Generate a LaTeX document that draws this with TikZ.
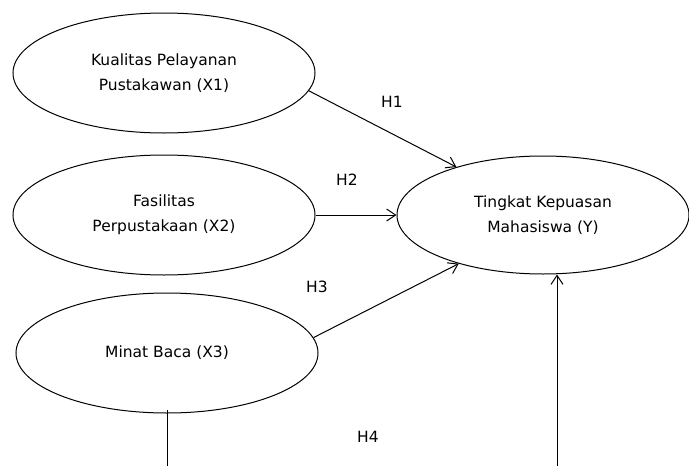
\documentclass[tikz,border=0pt]{standalone}
\usepackage{fontspec}
\setmainfont{DejaVu Sans}
\usetikzlibrary{shapes.geometric,arrows.meta}
\tikzset{
  var/.style={ellipse, draw, line width=1pt, minimum width=302pt, minimum height=120pt, inner sep=0pt, align=center, font=\fontsize{15.5}{25}\selectfont},
  lab/.style={font=\fontsize{15.5}{19}\selectfont, inner sep=0pt},
  conn/.style={line width=1pt, -{Straight Barb[length=9pt,width=12pt,line width=1pt]}},
  plain/.style={line width=1pt}
}
\begin{document}
\begin{tikzpicture}[x=1pt,y=-1pt]
\fill[white] (0,0) rectangle (689,466);
\useasboundingbox (0,0) rectangle (689,466);
\node[var] (x1) at (164,73) {Kualitas Pelayanan\\Pustakawan (X1)};
\node[var] (x2) at (164,215) {Fasilitas\\Perpustakaan (X2)};
\node[var] (x3) at (167,353) {Minat Baca (X3)};
\node[var, minimum width=292pt, minimum height=118pt] (y) at (543,215) {Tingkat Kepuasan\\Mahasiswa (Y)};
\node[lab] (h1) at (392,102) {H1};
\node[lab] (h2) at (347,180) {H2};
\node[lab] (h3) at (317,287) {H3};
\node[lab] (h4) at (368,437) {H4};
\coordinate (x3b) at (167,466);
\coordinate (yb) at (557,466);
\draw[conn] (x1.-7.9) -- (y.151.9);
\draw[conn] (x2.east) -- (y.west);
\draw[conn] (x3.6.75) -- (y.210);
\draw[plain] ([yshift=4pt]x3.south) -- (x3b);
\draw[conn] (yb) -- (yb |- y.south);
\end{tikzpicture}
\end{document}
